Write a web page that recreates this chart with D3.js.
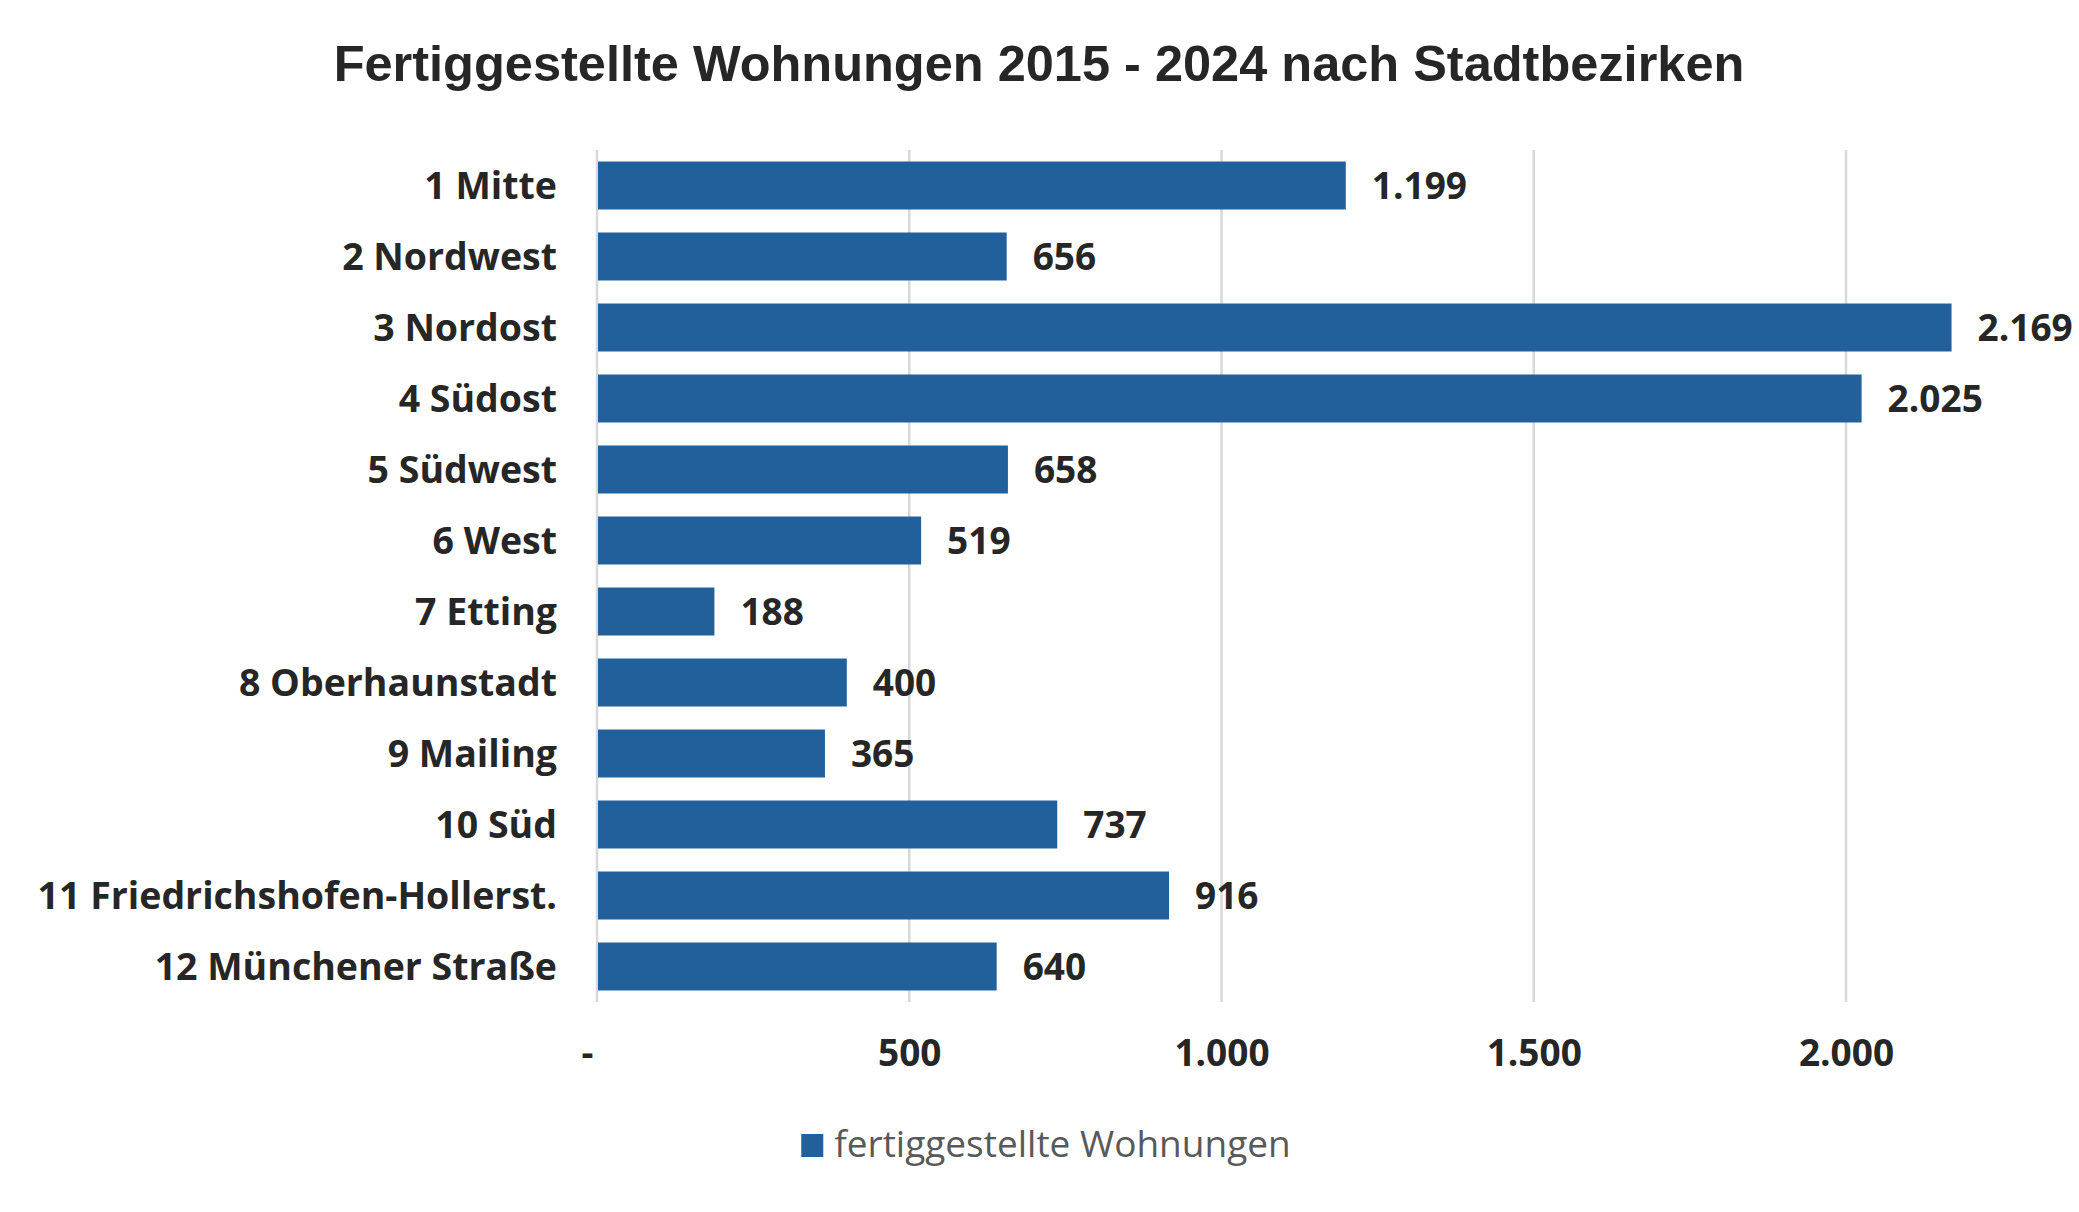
<!DOCTYPE html>
<html lang="de">
<head>
<meta charset="utf-8">
<title>Fertiggestellte Wohnungen 2015 - 2024 nach Stadtbezirken</title>
<script src="https://cdn.jsdelivr.net/npm/d3@7"></script>
<style>
    html, body { margin: 0; padding: 0; background: #ffffff; }
    #chart { width: 2079px; height: 1212px; }
    .grid line { stroke: #d9d9d9; stroke-width: 2.5; }
</style>
</head>
<body>
<div id="chart"></div>
<script>
const bezirke = [
    '1 Mitte', '2 Nordwest', '3 Nordost', '4 Südost', '5 Südwest', '6 West',
    '7 Etting', '8 Oberhaunstadt', '9 Mailing', '10 Süd',
    '11 Friedrichshofen-Hollerst.', '12 Münchener Straße'
];
const wohnungen = [1199, 656, 2169, 2025, 658, 519, 188, 400, 365, 737, 916, 640];
const achsenTicks = [0, 500, 1000, 1500, 2000];
const achsenMax = 2300;
const titel = 'Fertiggestellte Wohnungen 2015 - 2024 nach Stadtbezirken';
const legendenText = 'fertiggestellte Wohnungen';

document.addEventListener('DOMContentLoaded', () => {
    const breite = 2079;
    const hoehe = 1212;
    const balkenFarbe = '#22609b';
    const textFarbe = '#262626';
    const schrift = '"Open Sans", "Liberation Sans", Arial, sans-serif';

    const rand = { oben: 150, rechts: 2079 - 597 - 2300 * 0.6245, unten: 1212 - 1002, links: 597 };

    // Zahlen im deutschen Format: 1.199, Null als Strich
    const deutsch = d3.formatLocale({ decimal: ',', thousands: '.', grouping: [3], currency: ['', ' €'] });
    const tausender = deutsch.format(',d');
    const tickText = wert => wert === 0 ? '-' : tausender(wert);

    const svg = d3.select('#chart')
        .append('svg')
        .attr('width', breite)
        .attr('height', hoehe)
        .attr('viewBox', `0 0 ${breite} ${hoehe}`);

    const x = d3.scaleLinear()
        .domain([0, achsenMax])
        .range([rand.links, breite - rand.rechts]);

    const y = d3.scaleBand()
        .domain(bezirke)
        .range([rand.oben, hoehe - rand.unten])
        .paddingInner(0.324)
        .paddingOuter(0.162);

    svg.append('text')
        .attr('x', 1039)
        .attr('y', 81)
        .attr('text-anchor', 'middle')
        .style('font-family', '"Liberation Sans", Arial, sans-serif')
        .style('font-weight', '700')
        .style('font-size', '50.5px')
        .attr('fill', textFarbe)
        .text(titel);

    // senkrechte Gitterlinien
    svg.append('g')
        .attr('class', 'grid')
        .selectAll('line')
        .data(achsenTicks)
        .enter().append('line')
        .attr('x1', d => x(d))
        .attr('x2', d => x(d))
        .attr('y1', rand.oben)
        .attr('y2', hoehe - rand.unten);

    svg.append('g')
        .selectAll('rect')
        .data(wohnungen)
        .enter().append('rect')
        .attr('x', x(0) + 1)
        .attr('y', (d, i) => y(bezirke[i]))
        .attr('width', d => x(d) - x(0) - 1)
        .attr('height', y.bandwidth())
        .attr('fill', balkenFarbe);

    svg.append('g')
        .selectAll('text')
        .data(wohnungen)
        .enter().append('text')
        .attr('x', d => x(d) + 26)
        .attr('y', (d, i) => y(bezirke[i]) + y.bandwidth() / 2)
        .attr('dy', '0.36em')
        .style('font-family', schrift)
        .style('font-weight', '700')
        .style('font-size', '37px')
        .attr('fill', textFarbe)
        .text(d => tausender(d));

    // Kategorieachse links, ohne Linie und Striche
    const achseLinks = svg.append('g')
        .attr('transform', `translate(${rand.links - 40},0)`)
        .call(d3.axisLeft(y).tickSize(0).tickPadding(0));
    achseLinks.select('.domain').remove();
    achseLinks.selectAll('text')
        .attr('dy', '0.36em')
        .style('font-family', schrift)
        .style('font-weight', '700')
        .style('font-size', '37.5px')
        .attr('fill', textFarbe);

    const achseUnten = svg.append('g')
        .attr('transform', `translate(0,${hoehe - rand.unten})`)
        .call(d3.axisBottom(x).tickValues(achsenTicks).tickFormat(tickText).tickSize(0).tickPadding(0));
    achseUnten.select('.domain').remove();
    achseUnten.selectAll('text')
        .attr('y', 64)
        .attr('dy', 0)
        .attr('dx', d => d === 0 ? -10 : 0)
        .style('font-family', schrift)
        .style('font-weight', '700')
        .style('font-size', '37px')
        .attr('fill', textFarbe);

    // Legende mittig unter dem Diagramm
    const legende = svg.append('g');
    const legendenBeschriftung = legende.append('text')
        .attr('y', 1157)
        .style('font-family', schrift)
        .style('font-size', '37px')
        .attr('fill', '#595959')
        .text(legendenText);
    const textBreite = legendenBeschriftung.node().getComputedTextLength();
    const legendeStart = 1046 - (33 + textBreite) / 2;
    legende.append('rect')
        .attr('x', legendeStart)
        .attr('y', 1134)
        .attr('width', 22)
        .attr('height', 23)
        .attr('fill', balkenFarbe);
    legendenBeschriftung.attr('x', legendeStart + 33);
});
</script>
</body>
</html>
